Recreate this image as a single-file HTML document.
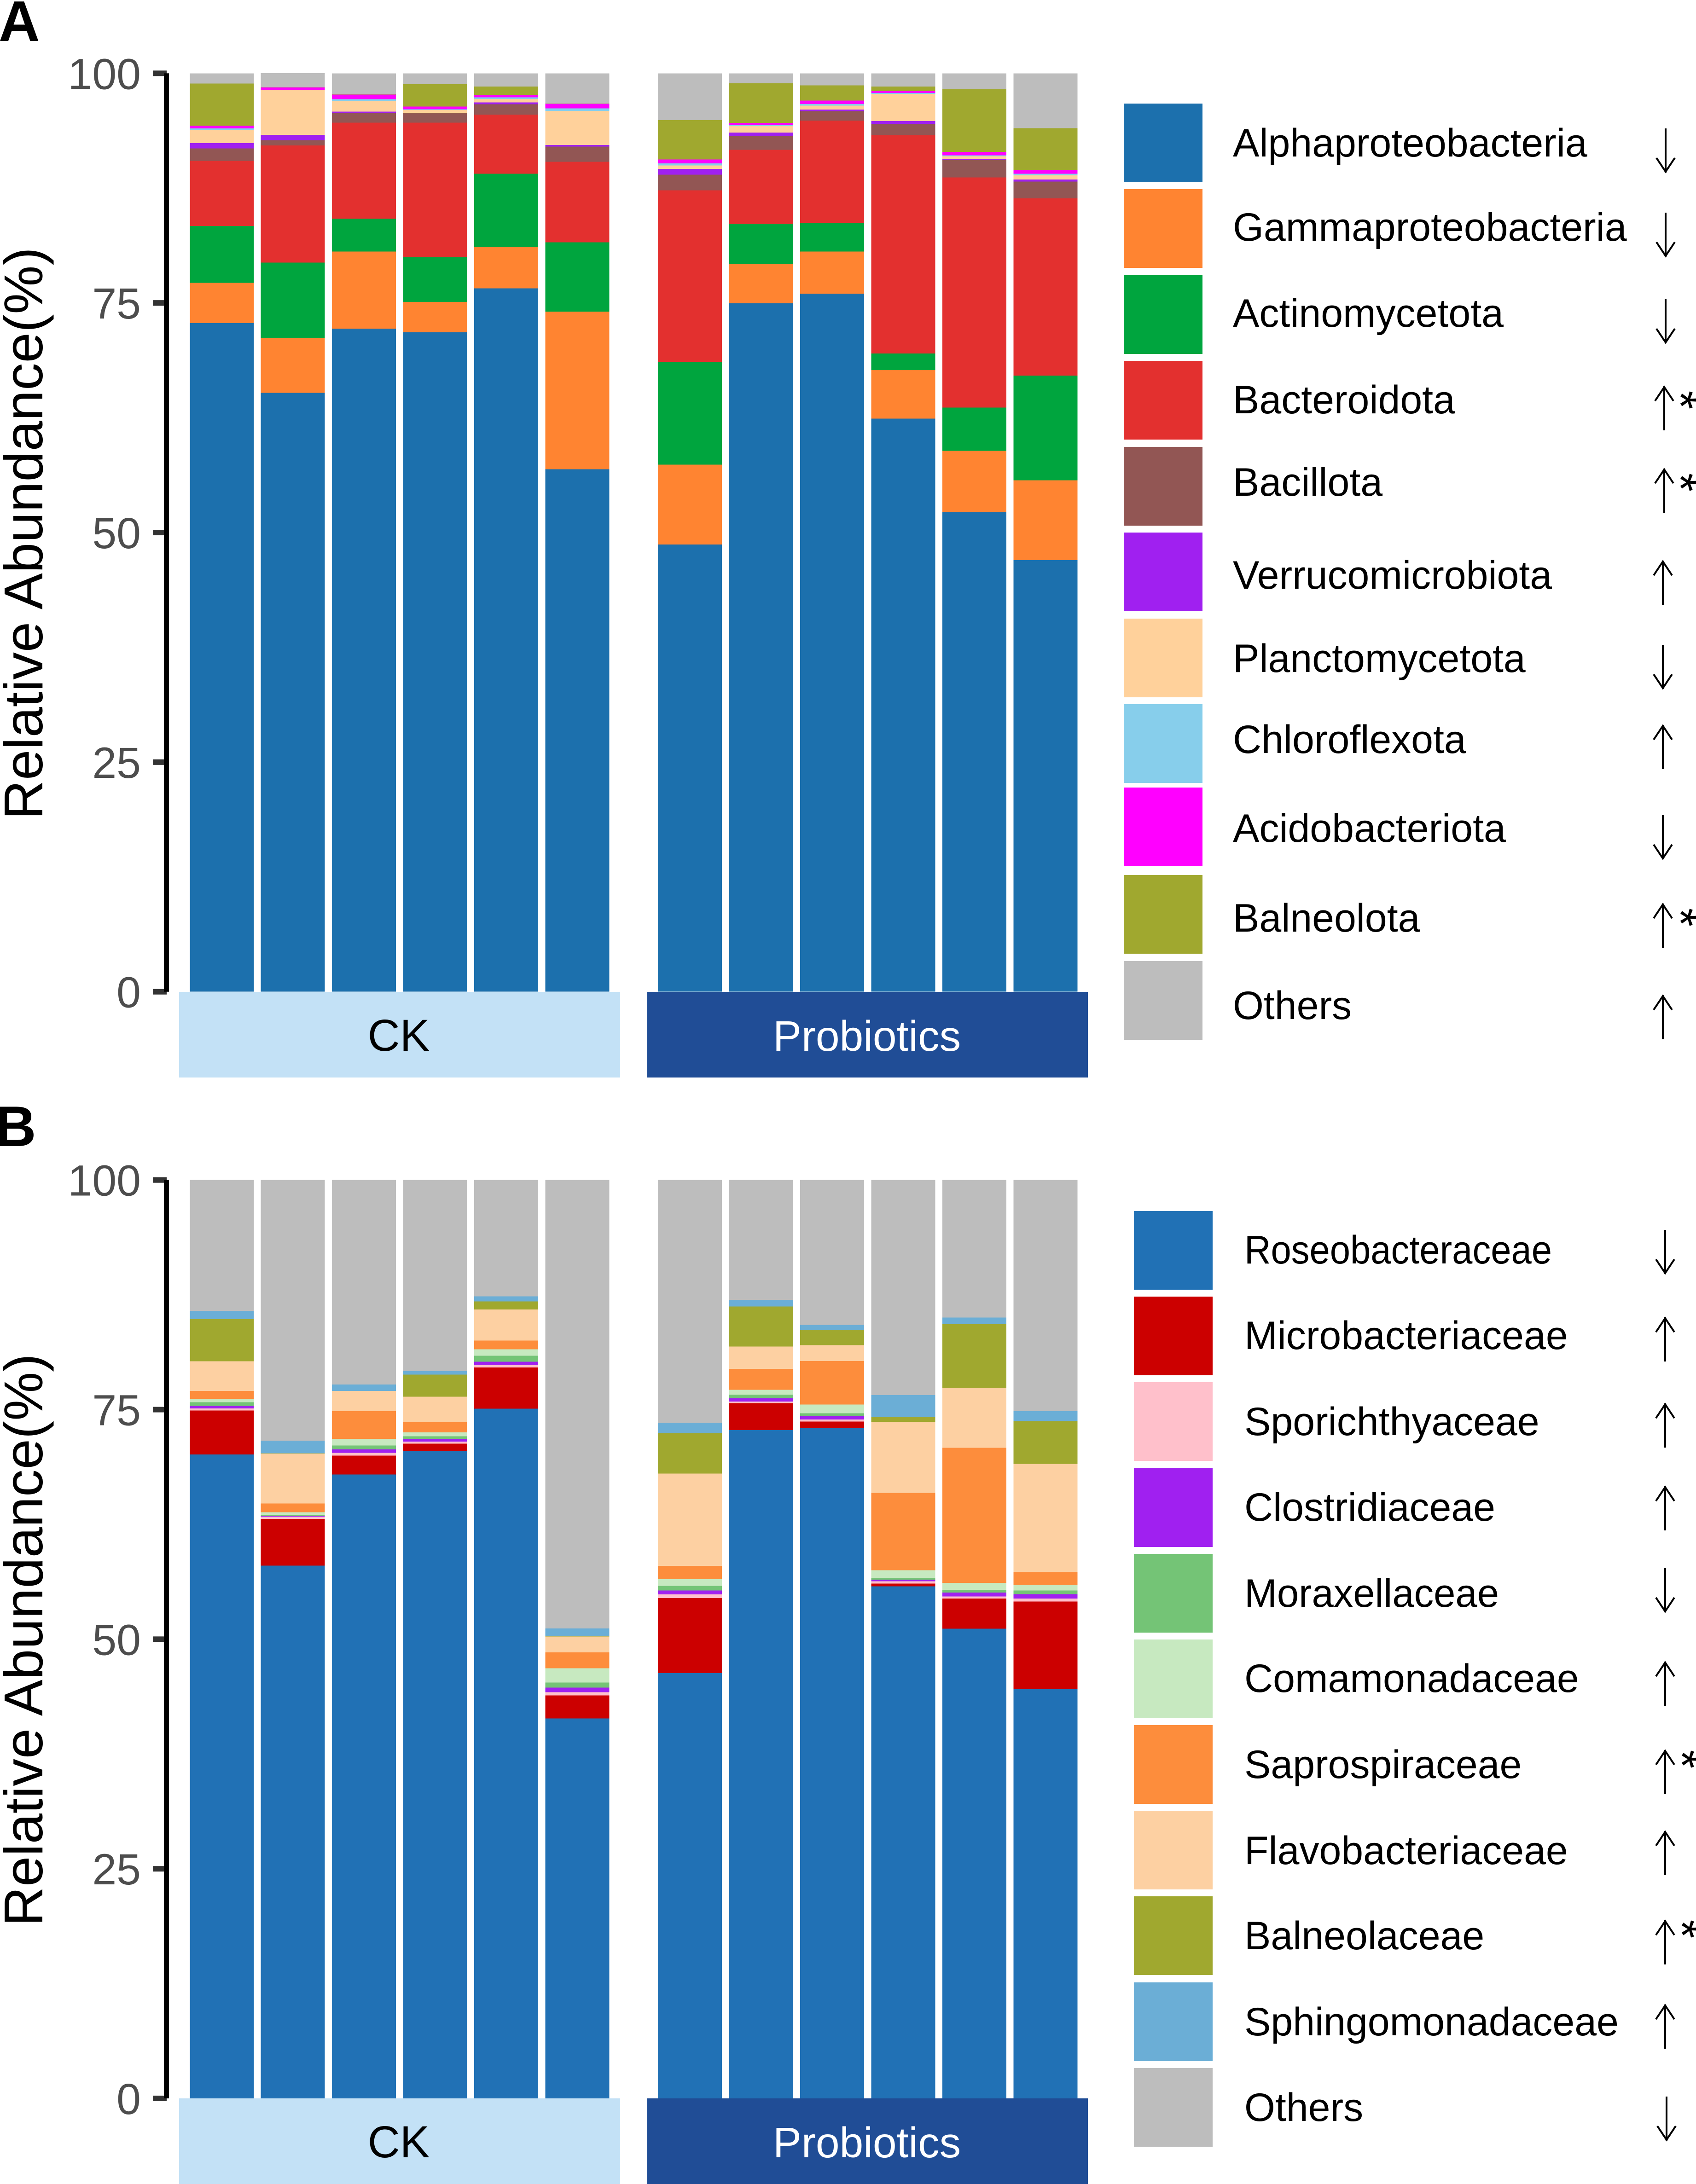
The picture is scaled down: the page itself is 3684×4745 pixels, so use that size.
<!DOCTYPE html>
<html lang="en">
<head>
<meta charset="utf-8">
<title>Relative abundance stacked bars</title>
<style>
html,body{margin:0;padding:0;background:#fff;}
svg{display:block;font-family:"Liberation Sans",Arial,sans-serif;}
.leg{font-size:86px;fill:#000;}
.tick{font-size:95px;fill:#4d4d4d;text-anchor:end;}
.ytitle{font-size:119px;fill:#000;text-anchor:middle;}
.panel{font-size:124px;font-weight:bold;fill:#000;}
.strip{font-size:93px;text-anchor:middle;}
.strip-ck{font-size:97px;text-anchor:middle;}
.star{font-size:104px;fill:#000;text-anchor:middle;}
</style>
</head>
<body>
<svg id="chart" xmlns="http://www.w3.org/2000/svg" width="3684" height="4745" viewBox="0 0 3684 4745">
<defs>
<g id="arrow-up" fill="none" stroke="#000" stroke-width="4"><path d="M0,-48V48"/><path d="M-20,-16L0,-46L20,-16"/></g>
<g id="arrow-down" fill="none" stroke="#000" stroke-width="4"><path d="M0,-48V48"/><path d="M-20,16L0,46L20,16"/></g>
</defs>

<text class="panel" x="-3" y="89">A</text>
<text class="panel" x="-11" y="2490">B</text>

<text class="ytitle" transform="translate(92,1159) rotate(-90)">Relative Abundance(%)</text>
<text class="ytitle" transform="translate(92,3563) rotate(-90)">Relative Abundance(%)</text>

<rect x="389" y="2155" width="958" height="186" fill="#c3e1f6"/>
<rect x="1406" y="2155" width="957" height="186" fill="#204d96"/>
<text class="strip-ck" x="866" y="2283" fill="#000">CK</text>
<text class="strip" x="1883" y="2283" fill="#fff">Probiotics</text>

<rect x="389" y="4559" width="958" height="186" fill="#c3e1f6"/>
<rect x="1406" y="4559" width="957" height="186" fill="#204d96"/>
<text class="strip-ck" x="866" y="4687" fill="#000">CK</text>
<text class="strip" x="1883" y="4687" fill="#fff">Probiotics</text>

<g id="marks-a"></g>
<g id="marks-b"></g>

<g>
<rect x="2441" y="225" width="171" height="171" fill="#1c70ad"/>
<rect x="2441" y="411" width="171" height="171" fill="#ff8431"/>
<rect x="2441" y="598" width="171" height="171" fill="#00a53e"/>
<rect x="2441" y="784" width="171" height="171" fill="#e3302f"/>
<rect x="2441" y="971" width="171" height="171" fill="#925654"/>
<rect x="2441" y="1157" width="171" height="171" fill="#a020f0"/>
<rect x="2441" y="1344" width="171" height="171" fill="#ffd19b"/>
<rect x="2441" y="1530" width="171" height="171" fill="#87ceeb"/>
<rect x="2441" y="1711" width="171" height="171" fill="#ff00ff"/>
<rect x="2441" y="1901" width="171" height="171" fill="#a0a82f"/>
<rect x="2441" y="2088" width="171" height="171" fill="#bdbdbd"/>

<text class="leg" x="2678" y="340">Alphaproteobacteria</text>
<text class="leg" x="2678" y="523">Gammaproteobacteria</text>
<text class="leg" x="2678" y="710">Actinomycetota</text>
<text class="leg" x="2678" y="898">Bacteroidota</text>
<text class="leg" x="2678" y="1077">Bacillota</text>
<text class="leg" x="2678" y="1279">Verrucomicrobiota</text>
<text class="leg" x="2678" y="1460">Planctomycetota</text>
<text class="leg" x="2678" y="1636">Chloroflexota</text>
<text class="leg" x="2678" y="1829">Acidobacteriota</text>
<text class="leg" x="2678" y="2024">Balneolota</text>
<text class="leg" x="2678" y="2214">Others</text>

<use href="#arrow-down" x="3618" y="327"/>
<use href="#arrow-down" x="3618" y="510"/>
<use href="#arrow-down" x="3618" y="698"/>
<use href="#arrow-up" x="3615" y="887"/>
<use href="#arrow-up" x="3615" y="1066"/>
<use href="#arrow-up" x="3612" y="1266"/>
<use href="#arrow-down" x="3612" y="1449"/>
<use href="#arrow-up" x="3612" y="1623"/>
<use href="#arrow-down" x="3612" y="1819"/>
<use href="#arrow-up" x="3612" y="2011"/>
<use href="#arrow-up" x="3612" y="2210"/>
<text class="star" transform="translate(3664,869) rotate(90)" y="49">*</text>
<text class="star" transform="translate(3664,1048) rotate(90)" y="49">*</text>
<text class="star" transform="translate(3664,1993) rotate(90)" y="49">*</text>
</g>

<g>
<rect x="2463" y="2631" width="171" height="171" fill="#2171b5"/>
<rect x="2463" y="2817" width="171" height="171" fill="#cc0000"/>
<rect x="2463" y="3003" width="171" height="171" fill="#ffc0cb"/>
<rect x="2463" y="3190" width="171" height="171" fill="#a020f0"/>
<rect x="2463" y="3376" width="171" height="171" fill="#74c476"/>
<rect x="2463" y="3562" width="171" height="171" fill="#c7e9c0"/>
<rect x="2463" y="3748" width="171" height="171" fill="#fd8d3c"/>
<rect x="2463" y="3934" width="171" height="171" fill="#fdd0a2"/>
<rect x="2463" y="4120" width="171" height="171" fill="#a0a82f"/>
<rect x="2463" y="4307" width="171" height="171" fill="#6baed6"/>
<rect x="2463" y="4493" width="171" height="171" fill="#bdbdbd"/>

<text class="leg" x="2703" y="2745" textLength="668" lengthAdjust="spacingAndGlyphs">Roseobacteraceae</text>
<text class="leg" x="2703" y="2931">Microbacteriaceae</text>
<text class="leg" x="2703" y="3118">Sporichthyaceae</text>
<text class="leg" x="2703" y="3304">Clostridiaceae</text>
<text class="leg" x="2703" y="3491" textLength="553" lengthAdjust="spacingAndGlyphs">Moraxellaceae</text>
<text class="leg" x="2703" y="3676">Comamonadaceae</text>
<text class="leg" x="2703" y="3863">Saprospiraceae</text>
<text class="leg" x="2703" y="4050">Flavobacteriaceae</text>
<text class="leg" x="2703" y="4235">Balneolaceae</text>
<text class="leg" x="2703" y="4422">Sphingomonadaceae</text>
<text class="leg" x="2703" y="4608">Others</text>

<use href="#arrow-down" x="3617" y="2720"/>
<use href="#arrow-up" x="3617" y="2910"/>
<use href="#arrow-up" x="3617" y="3097"/>
<use href="#arrow-up" x="3617" y="3277"/>
<use href="#arrow-down" x="3617" y="3455"/>
<use href="#arrow-up" x="3617" y="3658"/>
<use href="#arrow-up" x="3617" y="3850"/>
<use href="#arrow-up" x="3617" y="4026"/>
<use href="#arrow-up" x="3617" y="4220"/>
<use href="#arrow-up" x="3617" y="4403"/>
<use href="#arrow-down" x="3620" y="4603"/>
<text class="star" transform="translate(3667,3822) rotate(90)" y="49">*</text>
<text class="star" transform="translate(3667,4191) rotate(90)" y="49">*</text>
</g>
</svg>

<script>
// Shared axis data
const tickValues = [0, 25, 50, 75, 100];
const sampleNames = ['CK-1','CK-2','CK-3','CK-4','CK-5','CK-6','Probiotics-1','Probiotics-2','Probiotics-3','Probiotics-4','Probiotics-5','Probiotics-6'];

// Panel A: phylum-level relative abundance (%), one value per sample
const alphaproteobacteria = [72.8,65.2,72.2,71.8,76.58,56.9,48.7,74.96,76.0,62.4,52.2,47.0];
const gammaproteobacteria = [4.4,6.0,8.39,3.3,4.48,17.15,8.7,4.29,4.59,5.3,6.7,8.7];
const actinomycetota = [6.18,8.2,3.59,4.87,8.0,7.54,11.2,4.36,3.14,1.8,4.7,11.4];
const bacteroidota = [7.08,12.75,10.44,14.65,6.45,8.77,18.67,8.05,11.13,23.77,25.06,19.28];
const bacillota = [1.37,0.57,1.07,1.04,1.12,1.65,1.7,1.5,1.02,1.22,1.89,1.84];
const verrucomicrobiota = [0.57,0.57,0.13,0.05,0.2,0.18,0.63,0.38,0.18,0.32,0.1,0.22];
const planctomycetota = [1.44,4.89,1.17,0.3,0.38,3.71,0.37,0.7,0.43,2.94,0.33,0.45];
const chloroflexota = [0.17,0.04,0.2,0.08,0.17,0.28,0.22,0.12,0.17,0.1,0.08,0.18];
const acidobacteriota = [0.28,0.23,0.5,0.3,0.28,0.5,0.42,0.25,0.38,0.2,0.38,0.4];
const balneolota = [4.59,0.03,0.02,2.41,0.89,0.02,4.29,4.29,1.64,0.5,6.82,4.56];
const othersA = [1.12,1.54,2.29,1.2,1.45,3.29,5.1,1.09,1.32,1.45,1.74,5.96];

// Panel B: family-level relative abundance (%), one value per sample
const roseobacteraceae = [70.12,58.0,67.94,70.48,75.09,41.38,46.31,72.76,73.03,55.76,51.14,44.58];
const microbacteriaceae = [4.79,5.1,2.06,0.81,4.5,2.49,8.17,2.95,0.67,0.29,3.28,9.51];
const sporichthyaceae = [0.22,0.24,0.28,0.23,0.28,0.35,0.41,0.18,0.22,0.25,0.24,0.33];
const clostridiaceae = [0.28,0.05,0.39,0.27,0.35,0.51,0.42,0.34,0.36,0.18,0.41,0.49];
const moraxellaceae = [0.39,0.14,0.41,0.3,0.65,0.54,0.49,0.4,0.32,0.17,0.31,0.4];
const comamonadaceae = [0.38,0.29,0.74,0.43,0.69,1.57,0.74,0.52,0.96,0.86,0.74,0.61];
const saprospiraceae = [0.84,0.96,3.01,1.1,0.97,1.73,1.44,2.28,4.72,8.41,14.72,1.38];
const flavobacteriaceae = [3.24,5.43,2.19,2.79,3.37,1.73,10.06,2.44,1.74,7.76,6.53,11.79];
const balneolaceae = [4.59,0.02,0.02,2.41,0.89,0.02,4.39,4.36,1.68,0.54,6.94,4.66];
const sphingomonadaceae = [0.9,1.4,0.69,0.4,0.53,0.86,1.14,0.72,0.52,2.35,0.71,1.07];
const othersB = [14.25,28.38,22.27,20.78,12.68,48.84,26.43,13.05,15.78,23.43,14.98,25.18];

const seriesListA = [
  ['alphaproteobacteria', alphaproteobacteria, '#1c70ad'],
  ['gammaproteobacteria', gammaproteobacteria, '#ff8431'],
  ['actinomycetota', actinomycetota, '#00a53e'],
  ['bacteroidota', bacteroidota, '#e3302f'],
  ['bacillota', bacillota, '#925654'],
  ['verrucomicrobiota', verrucomicrobiota, '#a020f0'],
  ['planctomycetota', planctomycetota, '#ffd19b'],
  ['chloroflexota', chloroflexota, '#87ceeb'],
  ['acidobacteriota', acidobacteriota, '#ff00ff'],
  ['balneolota', balneolota, '#a0a82f'],
  ['others', othersA, '#bdbdbd']
];
const seriesListB = [
  ['roseobacteraceae', roseobacteraceae, '#2171b5'],
  ['microbacteriaceae', microbacteriaceae, '#cc0000'],
  ['sporichthyaceae', sporichthyaceae, '#ffc0cb'],
  ['clostridiaceae', clostridiaceae, '#a020f0'],
  ['moraxellaceae', moraxellaceae, '#74c476'],
  ['comamonadaceae', comamonadaceae, '#c7e9c0'],
  ['saprospiraceae', saprospiraceae, '#fd8d3c'],
  ['flavobacteriaceae', flavobacteriaceae, '#fdd0a2'],
  ['balneolaceae', balneolaceae, '#a0a82f'],
  ['sphingomonadaceae', sphingomonadaceae, '#6baed6'],
  ['others', othersB, '#bdbdbd']
];

const SVG_NS = 'http://www.w3.org/2000/svg';

function xScale(i) {
  return i < 6 ? 412.3 + i * 154.4 : 1429 + (i - 6) * 154.5;
}
const barWidth = 139;

function drawPanel(groupId, seriesList, yZero, yHundred, panelKey) {
  const group = document.getElementById(groupId);
  const yScale = v => yZero - v * (yZero - yHundred) / 100;

  sampleNames.forEach((sample, i) => {
    let cumulative = 0;
    seriesList.forEach(s => {
      const value = s[1][i];
      const top = yScale(cumulative + value);
      const bottom = yScale(cumulative);
      const bar = document.createElementNS(SVG_NS, 'rect');
      
      
      bar.setAttribute('x', xScale(i));
      bar.setAttribute('y', top);
      bar.setAttribute('width', barWidth);
      bar.setAttribute('height', Math.max(bottom - top, 0));
      bar.setAttribute('fill', s[2]);
      bar.setAttribute('shape-rendering', 'crispEdges');
      group.appendChild(bar);
      cumulative += value;
    });
  });

  tickValues.forEach(t => {
    const y = yScale(t);
    const label = document.createElementNS(SVG_NS, 'text');
    
    
    label.setAttribute('class', 'tick');
    label.setAttribute('x', 306);
    label.setAttribute('y', y + 34);
    label.textContent = t;
    group.appendChild(label);

    const tick = document.createElementNS(SVG_NS, 'rect');
    
    
    tick.setAttribute('x', 332);
    tick.setAttribute('y', y - 6);
    tick.setAttribute('width', 30);
    tick.setAttribute('height', 12);
    tick.setAttribute('fill', '#333333');
    group.appendChild(tick);
  });

  const axis = document.createElementNS(SVG_NS, 'rect');
  
  
  axis.setAttribute('x', 356);
  axis.setAttribute('y', yScale(100));
  axis.setAttribute('width', 11);
  axis.setAttribute('height', yScale(0) - yScale(100));
  axis.setAttribute('fill', '#000000');
  group.appendChild(axis);
}

drawPanel('marks-a', seriesListA, 2154.7, 159.3, 'a');
drawPanel('marks-b', seriesListB, 4559, 2563.7, 'b');
</script>
</body>
</html>
